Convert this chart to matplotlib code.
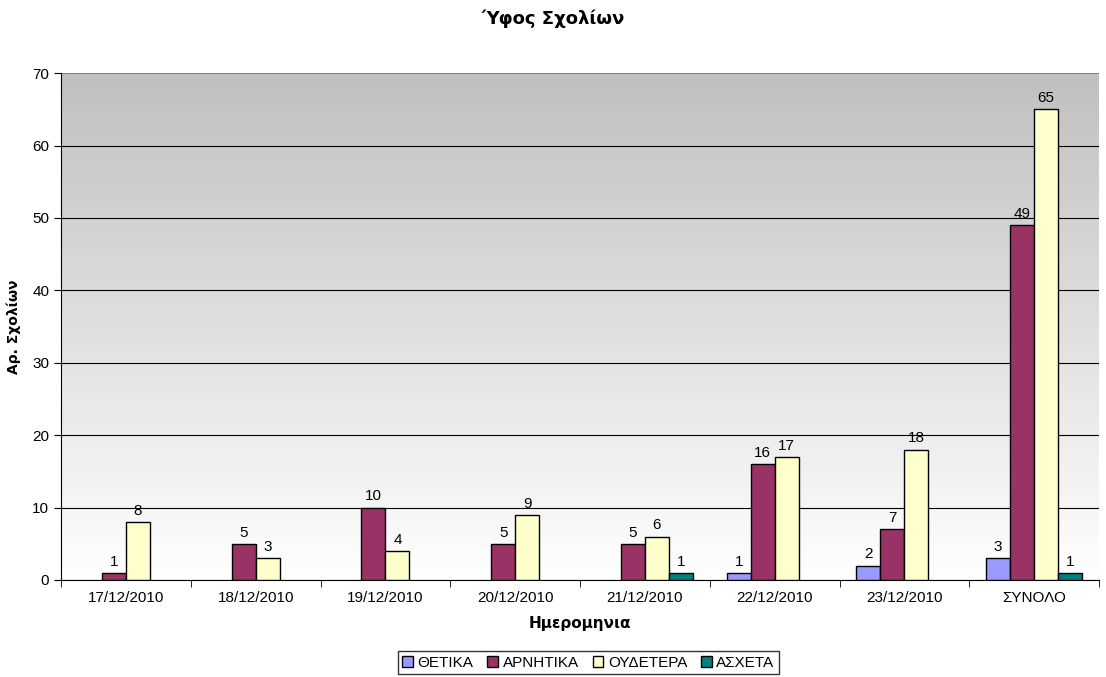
import matplotlib
matplotlib.use("Agg")
import matplotlib.pyplot as plt
import numpy as np
from matplotlib.patches import Patch
from matplotlib.colors import LinearSegmentedColormap

categories = ["17/12/2010", "18/12/2010", "19/12/2010", "20/12/2010",
              "21/12/2010", "22/12/2010", "23/12/2010", "ΣΥΝΟΛΟ"]
series_names = ["ΘΕΤΙΚΑ", "ΑΡΝΗΤΙΚΑ", "ΟΥΔΕΤΕΡΑ", "ΑΣΧΕΤΑ"]
thetika = [0, 0, 0, 0, 0, 1, 2, 3]
arnitika = [1, 5, 10, 5, 5, 16, 7, 49]
oudetera = [8, 3, 4, 9, 6, 17, 18, 65]
asxeta = [0, 0, 0, 0, 1, 0, 0, 1]
colors = ["#9999FF", "#993366", "#FFFFCC", "#008080"]

plt.rcParams['font.family'] = ['Liberation Sans', 'DejaVu Sans']

fig = plt.figure(figsize=(11.06, 6.77), dpi=100)
ax = fig.add_axes([0.0552, 0.1433, 0.9385, 0.7487])

# gradient background
grad = np.linspace(0, 1, 256).reshape(-1, 1)
cmap = LinearSegmentedColormap.from_list("g", ["#FFFFFF", "#C0C0C0"])
ax.imshow(grad, extent=[0, 1, 0, 1], transform=ax.transAxes, origin='lower',
          cmap=cmap, aspect='auto', zorder=0)

x = np.arange(len(categories))
w = 0.185
all_series = [thetika, arnitika, oudetera, asxeta]
for i, (vals, c) in enumerate(zip(all_series, colors)):
    pos = x + (i - 1.5) * w
    vals = np.array(vals)
    mask = vals > 0
    ax.bar(pos[mask], vals[mask], width=w, color=c, edgecolor='black',
           linewidth=1, zorder=3)
    for px, v in zip(pos[mask], vals[mask]):
        ax.annotate(str(v), (px, v), xytext=(0, 3), textcoords='offset points',
                    ha='center', va='bottom', fontsize=11, zorder=4)

ax.set_xlim(-0.5, len(categories) - 0.5)
ax.set_ylim(0, 70)
ax.set_yticks(np.arange(0, 71, 10))
ax.yaxis.grid(True, color='black', linewidth=0.8, zorder=1)
gl = ax.get_ygridlines()
gl[-1].set_color('#808080')
gl[-1].set_linewidth(1.5)
ax.set_axisbelow(True)
ax.set_xticks(x)
ax.set_xticklabels(categories, fontsize=11)
ax.set_xticks(np.arange(-0.5, len(categories), 1), minor=True)
ax.tick_params(axis='x', which='major', length=0, pad=8)
ax.tick_params(axis='x', which='minor', length=5, direction='out')
ax.tick_params(axis='y', labelsize=11, length=5, direction='out')
for s in ['top', 'right']:
    ax.spines[s].set_visible(False)
ax.spines['left'].set_color('black')
ax.spines['bottom'].set_color('black')

ax.set_xlabel("Ημερομηνια", fontsize=11, fontweight='bold',
              family='DejaVu Sans', labelpad=8)
ax.set_ylabel("Αρ. Σχολίων", fontsize=10, fontweight='bold',
              family='DejaVu Sans', labelpad=8)
fig.text(0.5, 0.973, "Ύφος Σχολίων", ha='center', va='center', fontsize=13,
         fontweight='bold', family='DejaVu Sans')

handles = [Patch(facecolor=c, edgecolor='black', label=n)
           for c, n in zip(colors, series_names)]
leg = fig.legend(handles=handles, loc='lower center', bbox_to_anchor=(0.532, -0.007),
                 ncol=4, frameon=True, fontsize=11, handlelength=0.7,
                 handleheight=0.7, handletextpad=0.3, columnspacing=0.9,
                 borderpad=0.3, fancybox=False, edgecolor='black')
leg.get_frame().set_linewidth(1)

fig.savefig("out.png", dpi=100)
